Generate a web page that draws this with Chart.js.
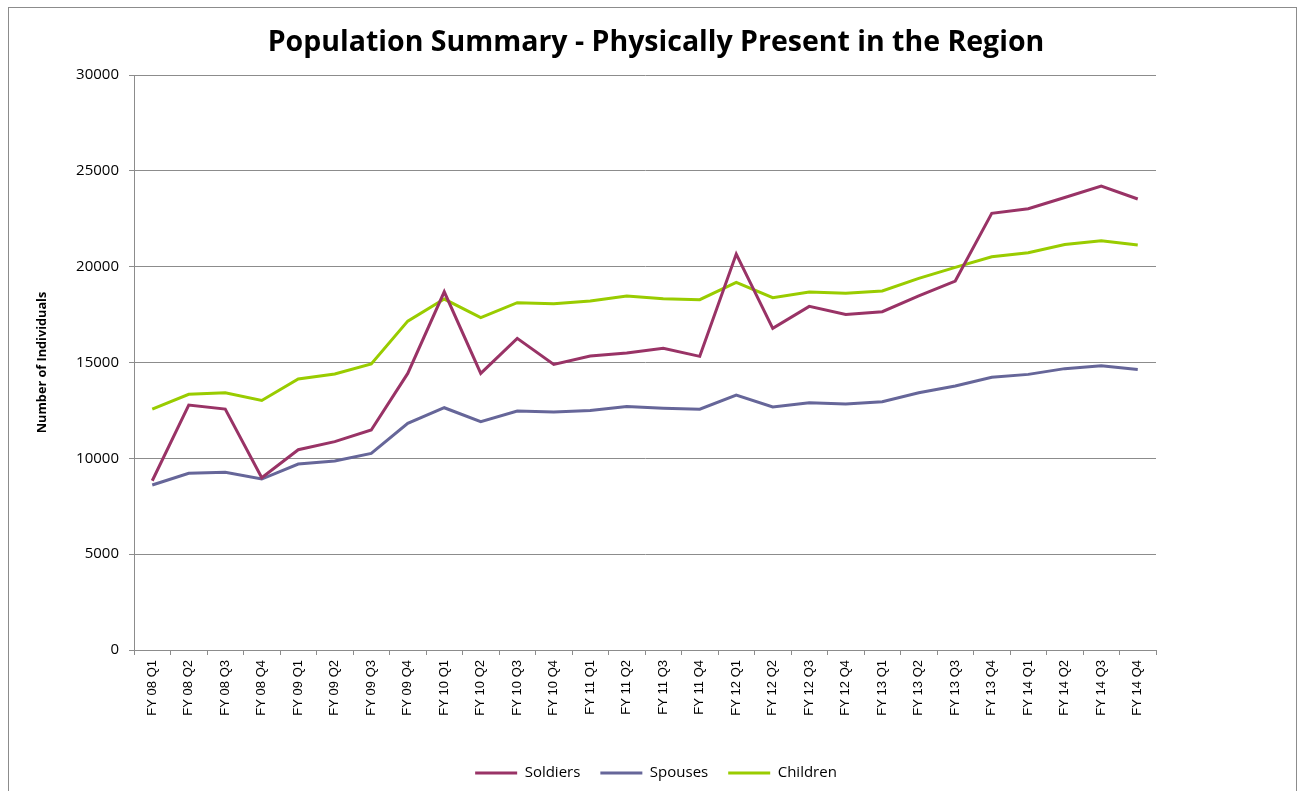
<!DOCTYPE html>
<html>
<head>
<meta charset="utf-8">
<script src="https://cdn.jsdelivr.net/npm/chart.js@4/dist/chart.umd.min.js"></script>
<style>
  html, body { margin: 0; padding: 0; background: #fff; }
  #frame {
    position: absolute; left: 8px; top: 7px; width: 1287px; height: 820px;
    border: 1px solid #8c8c8c;
  }
  #chart { position: absolute; left: 0; top: 0; }
</style>
</head>
<body>
<div id="frame"></div>
<canvas id="chart" width="1304" height="791"></canvas>
<script>
const quarters = [
  "FY 08 Q1", "FY 08 Q2", "FY 08 Q3", "FY 08 Q4",
  "FY 09 Q1", "FY 09 Q2", "FY 09 Q3", "FY 09 Q4",
  "FY 10 Q1", "FY 10 Q2", "FY 10 Q3", "FY 10 Q4",
  "FY 11 Q1", "FY 11 Q2", "FY 11 Q3", "FY 11 Q4",
  "FY 12 Q1", "FY 12 Q2", "FY 12 Q3", "FY 12 Q4",
  "FY 13 Q1", "FY 13 Q2", "FY 13 Q3", "FY 13 Q4",
  "FY 14 Q1", "FY 14 Q2", "FY 14 Q3", "FY 14 Q4",
];

const soldiers = [
  8830, 12780, 12570, 8990, 10450, 10870, 11480, 14430,
  18690, 14430, 16260, 14900, 15340, 15490, 15740, 15320,
  20660, 16780, 17930, 17510, 17650, 18470, 19250, 22780,
  23020, 23610, 24210, 23530,
];

const spouses = [
  8610, 9220, 9270, 8920, 9700, 9860, 10260, 11830,
  12640, 11910, 12470, 12420, 12490, 12700, 12610, 12560,
  13300, 12680, 12900, 12830, 12950, 13420, 13770, 14230,
  14380, 14680, 14830, 14640,
];

const children = [
  12570, 13340, 13420, 13020, 14140, 14400, 14920, 17160,
  18310, 17340, 18120, 18070, 18210, 18470, 18330, 18280,
  19180, 18380, 18680, 18610, 18730, 19390, 19960, 20520,
  20730, 21160, 21350, 21130,
];

const yTicks = [0, 5000, 10000, 15000, 20000, 25000, 30000];

const gridGray = "#8c8c8c";

const makeSeries = (label, values, color) => ({
  label: label,
  data: values,
  borderColor: color,
  backgroundColor: color,
  borderWidth: 3,
  pointRadius: 0,
  tension: 0,
});

const config = {
  type: "line",
  data: {
    labels: quarters,
    datasets: [
      makeSeries("Soldiers", soldiers, "#993366"),
      makeSeries("Spouses", spouses, "#666699"),
      makeSeries("Children", children, "#99cc00"),
    ],
  },
  options: {
    responsive: false,
    animation: false,
    layout: { padding: { top: 20, left: 8, right: 0, bottom: 0.5 } },
    plugins: {
      title: {
        display: true,
        text: "Population Summary - Physically Present in the Region",
        color: "#000",
        font: { family: "Open Sans", size: 28.5, weight: "bold" },
        padding: { top: 5.9, bottom: 14.9 },
      },
      legend: {
        position: "bottom",
        labels: {
          usePointStyle: true,
          pointStyle: "line",
          pointStyleWidth: 42,
          padding: 20,
          color: "#000",
          font: { family: "Open Sans", size: 15 },
        },
      },
      tooltip: { enabled: false },
    },
    scales: {
      x: {
        offset: true,
        grid: {
          offset: true,
          drawOnChartArea: false,
          tickLength: 5,
          color: gridGray,
        },
        border: { color: gridGray },
        ticks: {
          autoSkip: false,
          minRotation: 90,
          maxRotation: 90,
          padding: 5,
          color: "#000",
          font: { family: "Liberation Sans", size: 13 },
        },
        afterFit: (scale) => { scale.height = 95.5; },
      },
      y: {
        min: 0,
        max: 30000,
        afterBuildTicks: (scale) => {
          scale.ticks = yTicks.map((v) => ({ value: v }));
        },
        grid: { color: gridGray, tickLength: 5 },
        border: { color: gridGray },
        ticks: {
          padding: 10,
          color: "#000",
          font: { family: "Open Sans", size: 15 },
          callback: (value) => String(value),
        },
        title: {
          display: true,
          text: "Number of Individuals",
          color: "#000",
          font: { family: "Open Sans", size: 12.7, weight: "bold" },
          padding: { top: 26.5, bottom: 0 },
        },
        afterFit: (scale) => { scale.width = 126; },
      },
      // empty right axis, only reserves the space right of the plot
      yRight: {
        position: "right",
        min: 0,
        max: 30000,
        grid: { display: false },
        border: { display: false },
        ticks: { display: false },
        afterFit: (scale) => { scale.width = 148; },
      },
    },
  },
};

new Chart(document.getElementById("chart"), config);
</script>
</body>
</html>
